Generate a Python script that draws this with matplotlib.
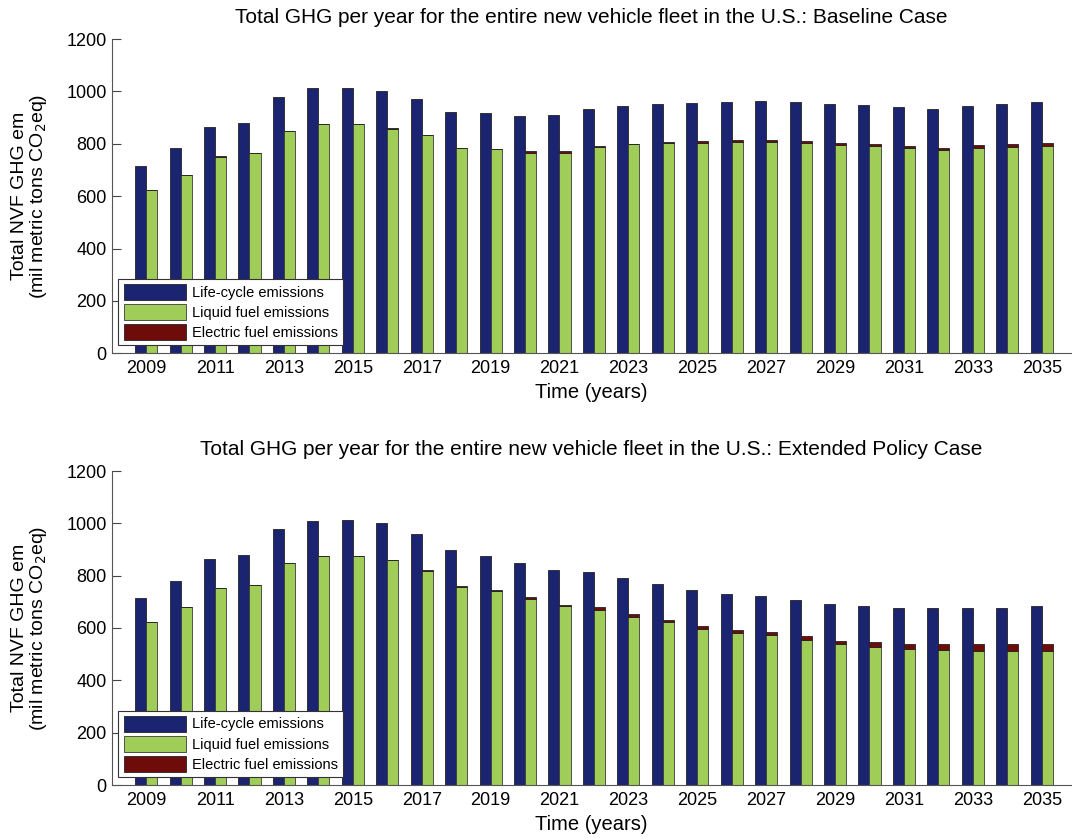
import numpy as np
import matplotlib
matplotlib.use("Agg")
import matplotlib.pyplot as plt

plt.rcParams['font.family'] = ['Liberation Sans', 'DejaVu Sans']

years = np.arange(2009, 2036)

# Baseline case (mil metric tons CO2 eq)
base_lifecycle = [715, 782, 864, 880, 979, 1014, 1014, 1001, 972, 921, 918, 906, 908, 934,
                  944, 953, 957, 960, 963, 960, 953, 949, 941, 931, 946, 953, 958]
base_liquid = [622, 679, 751, 766, 848, 876, 874, 858, 832, 782, 781, 766, 766, 787,
               798, 804, 804, 807, 808, 804, 796, 792, 782, 775, 784, 789, 792]
base_electric = [0, 0, 2, 0, 0, 1, 0, 2, 0, 2, 0, 5, 5, 3,
                 3, 3, 6, 7, 6, 6, 8, 8, 8, 7, 10, 11, 12]

# Extended policy case
ext_lifecycle = [716, 781, 864, 880, 978, 1010, 1014, 1001, 959, 897, 876, 848, 820, 815,
                 791, 769, 746, 730, 723, 708, 693, 683, 678, 676, 676, 676, 683]
ext_liquid = [622, 680, 753, 765, 848, 874, 874, 859, 818, 757, 742, 712, 683, 670,
              643, 622, 598, 582, 572, 553, 537, 526, 519, 516, 512, 512, 512]
ext_electric = [0, 0, 0, 0, 0, 2, 0, 0, 2, 2, 2, 6, 4, 10,
                10, 10, 10, 9, 11, 15, 15, 19, 21, 22, 26, 26, 28]

titles = ["Total GHG per year for the entire new vehicle fleet in the U.S.: Baseline Case",
          "Total GHG per year for the entire new vehicle fleet in the U.S.: Extended Policy Case"]

c_life = '#1b2470'
c_liq = '#a0cd58'
c_elec = '#6e0c0c'
w = 0.32

fig = plt.figure(figsize=(10.72, 8.38), dpi=100)
W, H = 1072.0, 838.0
panels = [(111.7, 353.3, 39.0), (111.7, 785.0, 471.0)]
data = [(base_lifecycle, base_liquid, base_electric),
        (ext_lifecycle, ext_liquid, ext_electric)]

for (x0, ybot, ytop), (life, liq, elec), title in zip(panels, data, titles):
    ax = fig.add_axes([x0 / W, 1 - ybot / H, (1071 - x0) / W, (ybot - ytop) / H])
    life = np.array(life)
    liq = np.array(liq)
    elec = np.array(elec)
    ax.bar(years - w / 2, life, w, color=c_life, edgecolor='#222222', linewidth=0.6,
           label='Life-cycle emissions')
    ax.bar(years + w / 2, liq, w, color=c_liq, edgecolor='#3a3a3a', linewidth=0.6,
           label='Liquid fuel emissions')
    ax.bar(years + w / 2, elec, w, bottom=liq, color=c_elec, edgecolor='#222222',
           linewidth=0.6, label='Electric fuel emissions')
    ax.set_xlim(2008, 2035.85)
    ax.set_ylim(0, 1200)
    ax.set_yticks(np.arange(0, 1201, 200))
    ax.set_xticks(years[::2])
    ax.tick_params(direction='in', labelsize=13, length=6.5, color='#444444')
    ax.tick_params(axis='x', length=0, pad=5)
    for s in ['top', 'right']:
        ax.spines[s].set_visible(False)
    for s in ['left', 'bottom']:
        ax.spines[s].set_color('#555555')
    ax.set_title(title, fontsize=15, pad=11.5)
    ax.set_xlabel('Time (years)', fontsize=14.5, labelpad=4)
    ax.set_ylabel('Total NVF GHG em\n(mil metric tons CO$_2$eq)', fontsize=14,
                  linespacing=1.0)
    ax.yaxis.set_label_coords(-0.065, 0.5)
    leg = ax.legend(loc='lower left', bbox_to_anchor=(0.007, 0.025), fontsize=10.5,
                    fancybox=False, framealpha=1, edgecolor='#333333',
                    handlelength=4.3, handleheight=1.3, borderpad=0.35,
                    labelspacing=0.3, handletextpad=0.4, borderaxespad=0)
    leg.get_frame().set_linewidth(0.8)

fig.savefig('out.png', dpi=100)
